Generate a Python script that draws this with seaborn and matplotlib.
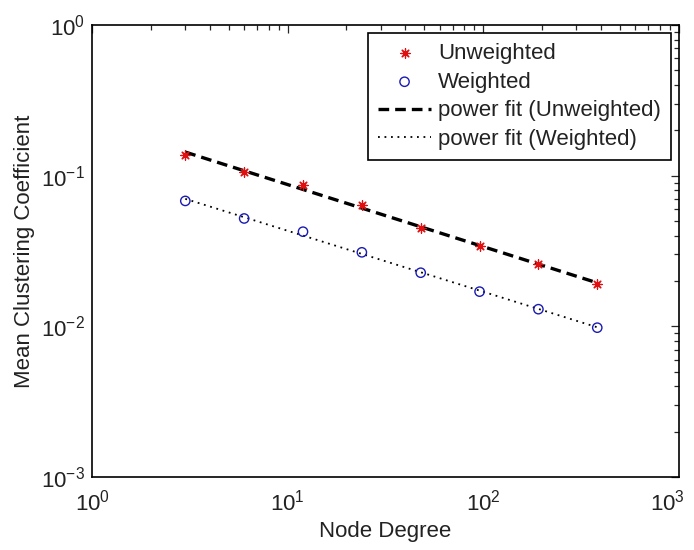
import numpy as np
import pandas as pd
import seaborn as sns
import matplotlib
matplotlib.use("Agg")
import matplotlib.pyplot as plt
import matplotlib.ticker as mticker
import matplotlib.transforms as mtrans

# values
node_degree = [3, 6, 12, 24, 48, 96, 192, 384]
cc_unweighted = [0.137, 0.105, 0.087, 0.064, 0.045, 0.034, 0.026, 0.019]
cc_weighted = [0.068, 0.052, 0.0425, 0.031, 0.0227, 0.017, 0.013, 0.0098]
x_ticks = [1, 10, 100, 1000]
y_ticks = [0.001, 0.01, 0.1, 1]

df = pd.DataFrame({"deg": node_degree, "unw": cc_unweighted, "w": cc_weighted})

# power fit  y = a * x^b  (linear fit in log-log)
def power_fit(x, y):
    b, loga = np.polyfit(np.log10(x), np.log10(y), 1)
    return 10 ** loga * np.asarray(x, dtype=float) ** b

df["fit_unw"] = power_fit(df["deg"], df["unw"])
df["fit_w"] = power_fit(df["deg"], df["w"])

sns.set_style("white")
plt.rcParams["font.family"] = ["Liberation Sans", "DejaVu Sans"]
plt.rcParams["font.size"] = 16
plt.rcParams["axes.unicode_minus"] = False
plt.rcParams["xtick.direction"] = "in"
plt.rcParams["ytick.direction"] = "in"

fig = plt.figure(figsize=(6.94, 5.5), dpi=100)
ax = fig.add_axes([0.1326, 0.1327, 0.8451, 0.8218])
ax.set(xscale="log", yscale="log")

sns.scatterplot(data=df, x="deg", y="unw", marker=(8, 2, 0), s=45, color="#e01010",
                linewidth=0.9, label="Unweighted", ax=ax, zorder=3)
sns.scatterplot(data=df, x="deg", y="w", marker="o", s=45, color="none",
                edgecolor="#1a1ab4", linewidth=1.0, label="Weighted", ax=ax, zorder=3)
sns.lineplot(data=df, x="deg", y="fit_unw", color="black", linewidth=2.4,
             linestyle="--", label="power fit (Unweighted)", ax=ax)
ax.lines[-1].set_dashes([3.2, 1.8])
sns.lineplot(data=df, x="deg", y="fit_w", color="black", linewidth=1.3,
             linestyle=":", label="power fit (Weighted)", ax=ax)
ax.lines[-1].set_dashes([1, 2.6])

ax.set_xlim(1, 1000)
ax.set_ylim(1e-3, 1)
ax.set_xticks(x_ticks)
ax.set_yticks(y_ticks)
ax.xaxis.set_minor_locator(mticker.LogLocator(base=10, subs=np.arange(2, 10), numticks=20))
ax.yaxis.set_minor_locator(mticker.LogLocator(base=10, subs=np.arange(2, 10), numticks=20))
ax.xaxis.set_minor_formatter(mticker.NullFormatter())
ax.yaxis.set_minor_formatter(mticker.NullFormatter())

ax.set_xlabel("Node Degree", fontsize=16, color="#222222", labelpad=4)
ax.set_ylabel("Mean Clustering Coefficient", fontsize=16, color="#222222")
ax.yaxis.set_label_coords(-0.097, 0.5)

ax.tick_params(which="both", top=True, right=True, labelsize=16, labelcolor="#222222",
               width=0.9)
ax.tick_params(axis="x", which="major", pad=9)
ax.tick_params(axis="y", which="major", pad=5)
ax.tick_params(which="major", length=6)
ax.tick_params(which="minor", length=3.5)
for sp in ax.spines.values():
    sp.set_color("black")
    sp.set_linewidth(1.2)

leg = ax.legend(loc="upper right", fontsize=16, frameon=True, fancybox=False,
                framealpha=1, edgecolor="black", handlelength=2.4, handletextpad=0.3,
                labelspacing=0.35, borderpad=0.45, borderaxespad=0.35)
leg.get_frame().set_linewidth(1.2)
for t in leg.get_texts():
    t.set_color("#222222")

# keep the 10^3 label inside the canvas
fig.canvas.draw()
last = ax.get_xticklabels()[-1]
last.set_transform(last.get_transform() + mtrans.ScaledTranslation(-8 / 72, 0, fig.dpi_scale_trans))

fig.savefig("out.png", dpi=100)
